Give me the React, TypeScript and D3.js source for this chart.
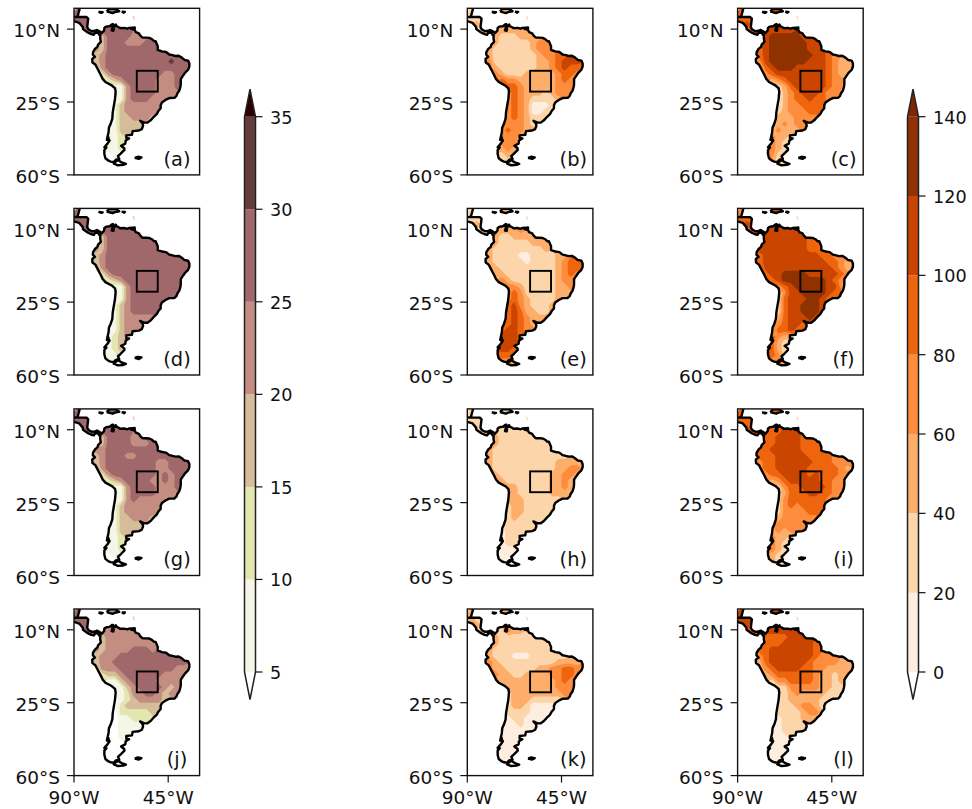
import * as d3 from "d3";

// each digit is the colour-bar band for a 3 degree cell,
// rows run from 20N southwards, columns from 90W eastwards, "." is sea
const panelA = ["5","55",".55","..5555555","....35555444","....355544455","...4355555555","...3455555555555","...345555555555655","...245555555555555","....24555555554455",".....234555554445","......11455554445","......1145555444","......114555444","......13444444","......13444444","......1334443","......13333",".....113333",".....1123",".....1122",".....112",".....011",".....001"];
const panelB = ["1","11",".21","..1122222","....21112222","....211111233","...2111111233","...2111111123344","...311111112234555","...321111112234544","....32111222223443",".....433222222343","......44322222333","......3432221233","......343211112","......34320001","......34320011","......3432111","......33321",".....343322",".....3332",".....3332",".....232",".....121",".....111"];
const panelC = ["4","44",".54","..4555555","....56666655","....566666655","...4566666655","...4566666665543","...356666665554322","...245666555554322","....34555555554322",".....234555555433","......12455555433","......0234555433","......023445443","......02334444","......12333444","......2223333","......23233",".....232223",".....3221",".....3211",".....321",".....311",".....211"];
const panelD = ["5","55",".55","..5555555","....35555555","....355555555","...4355555555","...3455555555555","...345555555555555","...245555555555555","....24555555555555",".....234555555555","......11455555555","......1145555555","......114555555","......13455555","......13455555","......1344444","......13444",".....113444",".....1234",".....1233",".....123",".....112",".....011"];
const panelE = ["1","11",".21","..1122223","....21122222","....211111222","...2111111112","...2111100111122","...211111011112344","...321111111112344","....22111111112343",".....321111111233","......33211111223","......3431111122","......343211112","......45321112","......45422112","......4543222","......45432",".....455433",".....5554",".....5554",".....554",".....443",".....332"];
const panelF = ["3","44",".54","..4555555","....55555554","....555555544","...5555555544","...4555555555443","...455555555554432","...355555555555432","....45566665555543",".....456666666543","......34566666553","......1355666654","......145556654","......14556665","......14556665","......2455565","......34554",".....244544",".....4322",".....4211",".....421",".....431",".....332"];
const panelG = ["5","55",".55","..5555555","....35555445","....355554445","...4455555555","...3455544555555","...345555555544555","...245555555544555","....24555555545455",".....234555544545","......11455554445","......1145555444","......114544444","......13444444","......13444444","......1334443","......13333",".....113333",".....1123",".....1122",".....112",".....011",".....001"];
const panelH = ["1","11",".11","..1111111","....21111111","....211111111","...2111111111","...2111111111111","...211111111112222","...211111111112233","....21111111122332",".....211111112232","......22111112232","......2211111222","......222111111","......12211111","......12211111","......1211111","......11111",".....011111",".....0110",".....0110",".....000",".....000",".....000"];
const panelI = ["4","44",".44","..4444455","....44555544","....445555444","...4455555444","...4445555544443","...344555555444333","...344555554444432","....34455554544433",".....234555554433","......13445555433","......1244455443","......134444443","......13434444","......13333444","......2333333","......33333",".....232333",".....3221",".....3211",".....321",".....211",".....210"];
const panelJ = ["5","55",".55","..5544444","....34444444","....344444444","...4344445554","...3444555555555","...344555555555555","...244455555555544","....23345555554444",".....113455554444","......11345555434","......1124455434","......012344443","......02333333","......02222233","......0112222","......01111",".....001111",".....0011",".....0001",".....000",".....000",".....000"];
const panelK = ["2","21",".21","..1111322","....21111111","....211111111","...2111111111","...2111000111111","...321111111112222","...322111112233443","....32211222233443",".....222222222343","......22222222333","......1222222223","......122211111","......12210000","......11110000","......0110000","......00100",".....000000",".....0000",".....0000",".....000",".....000",".....000"];
const panelL = ["5","55",".54","..4455555","....44445555","....444555554","...4455555554","...3455555554333","...245555554333322","...234555544332222","....23444444322122",".....133444432212","......11333332211","......1123222211","......112222211","......11123321","......11112332","......0111222","......01111",".....001111",".....0001",".....0000",".....000",".....000",".....000"];

const tempLevels = [5, 10, 15, 20, 25, 30, 35];
const tempColors = ["#ffffff", "#f6f6e8", "#e4e6b0", "#d6bd9a", "#c48d82", "#a0686a", "#643c3c", "#2a0000"];
const rainLevels = [0, 20, 40, 60, 80, 100, 120, 140];
const rainColors = ["#feeee0", "#fdd5ab", "#fdae6b", "#fd8c3c", "#ee6510", "#c94401", "#8f3204", "#7f2704"];

const latTicks = [10, -25, -60];
const latLabels = ["10°N", "25°S", "60°S"];
const lonTicks = [-90, -45];
const lonLabels = ["90°W", "45°W"];
const boxLon = [-60, -50];
const boxLat = [-20, -10];

const mainland: number[][] = [[-90,15.8],[-88.3,16],[-87.5,19],[-87,21],[-90,21.5],[-92,21],[-92,14.5],[-90,13.8],[-87.5,13],[-85.8,11],[-85.7,10],[-83.6,8.5],[-83,8.2],[-81.7,7.6],[-80.5,7.3],[-80,8.2],[-78.5,8.4],[-77.9,7.2],[-77.4,7],[-77.5,5.6],[-77.2,3.9],[-78.5,2.6],[-78.8,1.5],[-80,0.5],[-80.9,-1],[-81,-2.2],[-80,-3.3],[-81.3,-4.3],[-81.2,-6],[-79.8,-7],[-78.5,-9.5],[-77.2,-12],[-76.3,-13.9],[-75,-15.4],[-72,-17],[-70.4,-18.4],[-70.1,-20],[-70.4,-23.5],[-71,-27],[-71.5,-30],[-71.7,-33],[-72.5,-35.5],[-73.3,-37.2],[-73.5,-39.5],[-74,-41.8],[-73,-43.5],[-74,-45],[-75.5,-46.7],[-74.5,-46.8],[-75.5,-48],[-75.5,-50],[-75,-52],[-73.5,-53.2],[-72.5,-53.6],[-71,-53.8],[-70,-52.7],[-68.4,-52.3],[-69,-51],[-67.7,-49.8],[-65.9,-48],[-66,-47.2],[-67.5,-46],[-65.5,-45],[-65.3,-43.5],[-63.7,-42.5],[-65,-42.3],[-65,-41],[-62.3,-40.7],[-62,-39],[-59,-38.7],[-57.6,-38],[-57,-36.4],[-57.2,-35.3],[-58.4,-34],[-56.5,-34.9],[-54.9,-34.9],[-53.4,-33.8],[-52,-32.2],[-50.5,-30.8],[-49.7,-29.3],[-48.6,-28],[-48.6,-26.5],[-48,-25.2],[-46.3,-24],[-44.5,-23.1],[-42,-23],[-41,-22],[-40.7,-21],[-39.7,-19.5],[-39.2,-17.8],[-39,-16.5],[-39,-14],[-38.3,-12.9],[-37,-11],[-35.5,-9.5],[-34.9,-8],[-34.9,-6.5],[-35.5,-5.1],[-37.2,-4.8],[-38.5,-3.7],[-40,-2.8],[-41.5,-2.9],[-43.5,-2.4],[-44.5,-2.2],[-46,-1],[-48,-0.7],[-48.5,-0.5],[-50,0],[-50,1.8],[-51,4.2],[-51.7,4.2],[-52.8,5.2],[-54,5.8],[-55.5,5.9],[-57,5.9],[-57.5,6.1],[-58.4,7],[-59,8],[-60.5,8.6],[-61,9.6],[-62.7,10.1],[-62,10.7],[-63.8,10.6],[-64.5,10.2],[-66,10.6],[-68,10.5],[-68.4,10.8],[-69.7,11.5],[-70,12.2],[-70.3,11.4],[-71.5,10.9],[-71.9,11.6],[-71.1,11.8],[-71.3,12.4],[-71.7,12.4],[-73,11.4],[-74.2,11.3],[-74.8,11.1],[-75.5,10.6],[-75.6,9.4],[-76.8,8],[-77.4,8.7],[-79,9.6],[-80,9.2],[-81.5,9],[-83,9.8],[-83.7,11],[-83.2,15],[-84,15.8],[-90,15.8]];
const tierraDelFuego = [[-68.5,-52.7],[-68.3,-53.3],[-67.3,-54],[-65.2,-54.7],[-66.5,-55.2],[-69,-55.4],[-71,-54.6],[-70.2,-53.7],[-68.5,-52.7]];
const jamaica = [[-78.3,18.3],[-76.3,18.1],[-77,17.8],[-78.3,18.3]];
const hispaniola = [[-74.4,18.5],[-73,19.9],[-70,19.8],[-68.4,18.6],[-70.5,18.2],[-71.6,17.7],[-74.4,18.5]];
const puertoRico = [[-67.2,18.4],[-65.7,18.3],[-66.2,17.9],[-67.2,18.4]];
const falklands = [[-61,-51.8],[-59.5,-51.3],[-57.8,-51.6],[-59,-52.3],[-61,-51.8]];
const chiloe = [[-74,-41.8],[-73.5,-42],[-73.6,-43.3],[-74.3,-43.2],[-74,-41.8]];
const trinidad = [[-61.8,10.7],[-61,10.8],[-61,10.1],[-61.8,10.1],[-61.8,10.7]];
const maracaibo = [[-71.6,10.8],[-71,10],[-71.2,9.2],[-72,9.4],[-71.6,10.8]];
const antilles = [[-61.7,16.3],[-61.2,14.6]];

const panels = [
  { name: "(a)", rows: panelA, colors: tempColors }, { name: "(b)", rows: panelB, colors: rainColors }, { name: "(c)", rows: panelC, colors: rainColors },
  { name: "(d)", rows: panelD, colors: tempColors }, { name: "(e)", rows: panelE, colors: rainColors }, { name: "(f)", rows: panelF, colors: rainColors },
  { name: "(g)", rows: panelG, colors: tempColors }, { name: "(h)", rows: panelH, colors: rainColors }, { name: "(i)", rows: panelI, colors: rainColors },
  { name: "(j)", rows: panelJ, colors: tempColors }, { name: "(k)", rows: panelK, colors: rainColors }, { name: "(l)", rows: panelL, colors: rainColors },
];

const colLeft = [74, 467.3, 737.6];
const rowTop = [8.3, 208.4, 408.9, 609];
const labelCenter = [103, 106, 106];
const axesW = 125.6;
const axesH = 166.6;
const fontSize = 18.5;
const barFontSize = 17.6;
const labelFontSize = 19.4;
const font = "DejaVu Sans";
const ink = "#111";

const cols = 20;
const rowCount = 27;

const lonX = d3.scaleLinear().domain([-90, -30]).range([0, axesW]);
const latY = d3.scaleLinear().domain([-60, 20]).range([axesH, 0]);
const line = d3.line();
const ring = (pts: number[][]) => line(pts.map(([lon, lat]) => [lonX(lon), latY(lat)] as [number, number])) as string;

// grid x/y back to lon/lat, then to the panel's pixels
const gridPath = d3.geoPath(d3.geoTransform({
  point(x: number, y: number) {
    (this as any).stream.point(lonX(-90 + 3 * x), latY(20 - 3 * y));
  },
}));

// sea cells take the mean of their neighbours so bands run past the coast, the land clip trims them
function readGrid(rows: string[]) {
  let values = new Array(cols * rowCount).fill(NaN);
  rows.forEach((r, j) => {
    for (let i = 0; i < r.length; i++) if (r[i] !== ".") values[j * cols + i] = +r[i];
  });
  while (values.some(Number.isNaN)) {
    const next = values.slice();
    for (let j = 0; j < rowCount; j++) {
      for (let i = 0; i < cols; i++) {
        if (!Number.isNaN(values[j * cols + i])) continue;
        const around: number[] = [];
        for (let dj = -1; dj <= 1; dj++) for (let di = -1; di <= 1; di++) {
          const a = i + di, b = j + dj;
          if (a < 0 || b < 0 || a >= cols || b >= rowCount) continue;
          const v = values[b * cols + a];
          if (!Number.isNaN(v)) around.push(v);
        }
        if (around.length) next[j * cols + i] = d3.mean(around);
      }
    }
    values = next;
  }
  return values;
}

const contourMaker = d3.contours().size([cols, rowCount]).thresholds(d3.range(1, 8).map(k => k - 0.5));

const landRings = [mainland, tierraDelFuego, hispaniola, falklands, chiloe, trinidad];
const smallRings = [jamaica, puertoRico, maracaibo];
const landPath = landRings.map(ring).join("");
const coastPath = [...landRings, ...smallRings].map(ring).join("");

function Panel({ index }: { index: number }) {
  const p = panels[index];
  const col = index % 3;
  const row = Math.floor(index / 3);
  const bands = contourMaker(readGrid(p.rows));
  return (
    <g transform={`translate(${colLeft[col]},${rowTop[row]})`}>
      <g clipPath="url(#axesClip)">
        <g filter="url(#soften)">
          <path d={landPath} fill={p.colors[0]} />
          <g clipPath="url(#landClip)">
            {bands.map((b, i) => (
              <path key={i} d={gridPath(b as any) || ""} fill={p.colors[i + 1]} />
            ))}
          </g>
          <path d={ring(antilles)} fill="none" stroke={p.colors[col === 0 ? 4 : 2]} strokeWidth={0.7} />
          <path d={coastPath} fill="none" stroke="#000" strokeWidth={2.4} strokeLinejoin="round" />
        </g>
      </g>
      <rect x={lonX(boxLon[0])} y={latY(boxLat[1])} width={lonX(boxLon[1]) - lonX(boxLon[0])} height={latY(boxLat[0]) - latY(boxLat[1])}
        fill="none" stroke="#000" strokeWidth={1.9} />
      <rect width={axesW} height={axesH} fill="none" stroke={ink} strokeWidth={1.4} />
      {latTicks.map((t, i) => (
        <g key={t} transform={`translate(0,${latY(t)})`}>
          <line x1={-7} x2={0} stroke={ink} strokeWidth={1.2} />
          <text x={-14} y={8.2} textAnchor="end" fontSize={fontSize} fontFamily={font} fill={ink}>{latLabels[i]}</text>
        </g>
      ))}
      {row === 3 && lonTicks.map((t, i) => (
        <g key={t} transform={`translate(${lonX(t)},${axesH})`}>
          <line y1={0} y2={7} stroke={ink} strokeWidth={1.2} />
          <text y={28} textAnchor="middle" fontSize={fontSize} fontFamily={font} fill={ink}>{lonLabels[i]}</text>
        </g>
      ))}
      <text x={labelCenter[col]} y={157.4} textAnchor="middle" fontSize={labelFontSize} fontFamily={font} fill={ink}>{p.name}</text>
    </g>
  );
}

function ColorBar({ x, levels, bandColors, over }: { x: number; levels: number[]; bandColors: string[]; over: string }) {
  const w = 11;
  const y = d3.scaleLinear().domain([levels[0], levels[levels.length - 1]]).range([672, 116.7]);
  const top = y(levels[levels.length - 1]);
  const bottom = y(levels[0]);
  const tip = 27.5;
  const outline = `M${x},${bottom}L${x + w / 2},${bottom + tip}L${x + w},${bottom}L${x + w},${top}L${x + w / 2},${top - tip}L${x},${top}Z`;
  return (
    <g>
      <path d={`M${x},${top}L${x + w / 2},${top - tip}L${x + w},${top}Z`} fill={over} />
      {levels.slice(0, -1).map((l, i) => (
        <rect key={l} x={x} y={y(levels[i + 1])} width={w} height={y(l) - y(levels[i + 1])} fill={bandColors[i]} />
      ))}
      <path d={outline} fill="none" stroke="#222" strokeWidth={1.5} />
      {levels.map(l => (
        <g key={l} transform={`translate(${x + w},${y(l)})`}>
          <line x1={0} x2={7} stroke={ink} strokeWidth={1.2} />
          <text x={14.5} y={7} fontSize={barFontSize} fontFamily={font} fill={ink}>{l}</text>
        </g>
      ))}
    </g>
  );
}

export default function App() {
  return (
    <svg width={972} height={809} style={{ position: "absolute", left: 0, top: 0, background: "#fff" }}>
      <defs>
        <clipPath id="axesClip"><rect width={axesW} height={axesH} /></clipPath>
        <clipPath id="landClip"><path d={landPath} /></clipPath>
        <filter id="soften" x="-5%" y="-5%" width="110%" height="110%">
          <feGaussianBlur stdDeviation="0.45" />
        </filter>
      </defs>
      {panels.map((_, i) => <Panel key={i} index={i} />)}
      <ColorBar x={244.5} levels={tempLevels} bandColors={tempColors.slice(1, 7)} over={tempColors[7]} />
      <ColorBar x={907.5} levels={rainLevels} bandColors={rainColors.slice(0, 7)} over={rainColors[7]} />
    </svg>
  );
}
